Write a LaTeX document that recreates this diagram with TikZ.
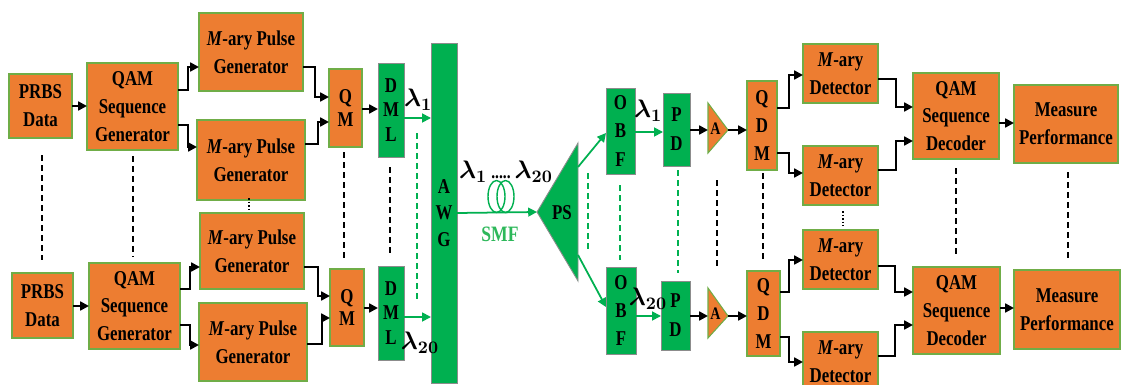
\documentclass[tikz,border=0pt]{standalone}
\usepackage{amsmath}
\usepackage{fontspec}
\setmainfont{Liberation Serif}[FakeStretch=0.80]
\usetikzlibrary{arrows.meta}
\definecolor{ofill}{HTML}{ED7D31}
\definecolor{oline}{HTML}{70AD47}
\definecolor{gfill}{HTML}{00B050}
\definecolor{gline}{HTML}{8C8C8C}
\definecolor{gwire}{HTML}{00B050}
\definecolor{smfc}{HTML}{2DB85A}
\newcommand\lbl{\fontsize{12}{15.8}\selectfont\bfseries}
\newcommand\stk[1]{\fontsize{12}{#1}\selectfont\bfseries}
\newcommand\bx[7]{\node[#6, minimum width={(#4-#2)*0.02cm}, minimum height={(#5-#3)*0.02cm}] (#1) at ({(#2+#4)/2},{(#3+#5)/2}) {#7};}
\newcommand\lam[1]{$\boldsymbol{\lambda_{#1}}$}
\newcommand\Mary{\textit{M}-ary}
\begin{document}
\begin{tikzpicture}[x=0.02cm,y=-0.02cm,
  obox/.style={draw=oline, fill=ofill, line width=0.6pt, inner sep=0pt, outer sep=0pt, align=center, font=\lbl},
  gbox/.style={draw=gline, fill=gfill, line width=0.5pt, inner sep=0pt, outer sep=0pt, align=center},
  arr/.style={line width=1.4pt, -{Triangle[length=5pt,width=5pt]}},
  garr/.style={draw=gwire, line width=1pt, -{Triangle[length=5pt,width=5pt]}},
  bdash/.style={dash pattern=on 3.5pt off 2.2pt, line width=1pt},
  gdash/.style={draw=gwire, dash pattern=on 3.5pt off 2.2pt, line width=0.9pt},
  bdot/.style={densely dotted, line width=1pt},
  lamlab/.style={inner sep=0pt, font=\fontsize{14}{16}\selectfont}]
\fill[white] (0,0) rectangle (1122,385);
\useasboundingbox (0,0) rectangle (1122,385);

% ---------- transmitter ----------
\bx{prbs1}{9}{74}{72}{138}{obox}{PRBS\\Data}
\bx{qam1}{87}{63}{178}{150}{obox}{QAM\\Sequence\\Generator}
\bx{gen1}{199}{13}{303}{91}{obox}{\Mary{} Pulse\\Generator}
\bx{gen2}{197}{120}{305}{200}{obox}{\Mary{} Pulse\\Generator}
\bx{qm1}{329}{69}{362}{147}{obox,font=\stk{13pt}}{Q\\M}
\bx{dml1}{378}{63}{404}{157}{gbox,font=\stk{14pt}}{D\\M\\L}
\bx{prbs2}{12}{273}{73}{338}{obox}{PRBS\\Data}
\bx{qam2}{89}{263}{180}{349}{obox}{QAM\\Sequence\\Generator}
\bx{gen3}{200}{213}{304}{289}{obox}{\Mary{} Pulse\\Generator}
\bx{gen4}{199}{303}{307}{381}{obox}{\Mary{} Pulse\\Generator}
\bx{qm2}{330}{269}{364}{346}{obox,font=\stk{13pt}}{Q\\M}
\bx{dml2}{378}{266}{404}{360}{gbox,font=\stk{14pt}}{D\\M\\L}
\bx{awg}{431}{43}{457}{383}{gbox,font=\stk{15pt}}{A\\W\\G}

% ---------- fibre / splitter ----------
\filldraw[draw=gline, fill=gfill, line width=0.5pt] (537,212) -- (578,143) -- (578,281) -- cycle;
\node[font=\lbl, inner sep=0pt] (ps) at (562,213) {PS};
\coordinate (psin) at (537,212);
\coordinate (pstop) at (578,167);
\coordinate (psbot) at (578,255);
\draw[gwire, line width=0.8pt] (496.5,196.5) ellipse [x radius=0.17cm, y radius=0.32cm];
\draw[gwire, line width=0.8pt] (505.5,196.5) ellipse [x radius=0.17cm, y radius=0.32cm];
\node[lamlab] (lamall) at (506,172) {\lam{1}\,{\fontsize{11}{12}\selectfont\textbf{.....}}\,\lam{20}};
\node[font=\fontsize{12.5}{14}\selectfont\bfseries, text=smfc, inner sep=0pt] (smf) at (500,234) {SMF};

% ---------- receiver ----------
\bx{obf1}{606}{88}{635}{174}{gbox,font=\stk{16pt}}{O\\B\\F}
\bx{obf2}{606}{267}{636}{354}{gbox,font=\stk{16pt}}{O\\B\\F}
\bx{pd1}{663}{93}{690}{166}{gbox,font=\stk{16.5pt}}{P\\D}
\bx{pd2}{661}{281}{690}{350}{gbox,font=\stk{16.5pt}}{P\\D}
\filldraw[draw=oline, fill=ofill, line width=0.6pt] (708,103) -- (728,130) -- (708,153) -- cycle;
\filldraw[draw=oline, fill=ofill, line width=0.6pt] (708,288) -- (728,316) -- (708,338) -- cycle;
\node[font=\fontsize{10}{11}\selectfont\bfseries, inner sep=0pt] (amp1) at (715.5,129) {A};
\node[font=\fontsize{10}{11}\selectfont\bfseries, inner sep=0pt] (amp2) at (715.5,314) {A};
\coordinate (a1in) at (708,130);
\coordinate (a1out) at (728,130);
\coordinate (a2in) at (708,316);
\coordinate (a2out) at (728,316);
\bx{qdm1}{747}{81}{777}{170}{obox,font=\stk{16pt}}{Q\\D\\M}
\bx{qdm2}{747}{271}{780}{356}{obox,font=\stk{16pt}}{Q\\D\\M}
\bx{det1}{803}{44}{878}{103}{obox}{\Mary\\Detector}
\bx{det2}{803}{146}{878}{205}{obox}{\Mary\\Detector}
\bx{det3}{803}{230}{878}{289}{obox}{\Mary\\Detector}
\bx{det4}{803}{332}{878}{392}{obox}{\Mary\\Detector}
\bx{dec1}{913}{73}{999}{159}{obox}{QAM\\Sequence\\Decoder}
\bx{dec2}{913}{267}{1000}{354}{obox}{QAM\\Sequence\\Decoder}
\bx{meas1}{1014}{85}{1118}{163}{obox}{Measure\\Performance}
\bx{meas2}{1014}{270}{1120}{349}{obox}{Measure\\Performance}

% ---------- black connectors ----------
\draw[arr] (prbs1.east |- 0,106) -- (qam1.west |- 0,106);
\draw[arr] (prbs2.east |- 0,306) -- (qam2.west |- 0,306);
\draw[arr] (qam1.east |- 0,90) -- (188,90) |- (gen1.west |- 0,67);
\draw[arr] (qam1.east |- 0,125) -- (188,125) |- (gen2.west |- 0,147);
\draw[arr] (gen1.east |- 0,67) -- (315,67) |- (qm1.west |- 0,97);
\draw[arr] (gen2.east |- 0,144) -- (318,144) |- (qm1.west |- 0,122);
\draw[arr] (qm1.east |- 0,109) -- (dml1.west |- 0,109);
\draw[arr] (qam2.east |- 0,289) -- (190,289) |- (gen3.west |- 0,267);
\draw[arr] (qam2.east |- 0,325) -- (190,325) |- (gen4.west |- 0,345);
\draw[arr] (gen3.east |- 0,267) -- (318,267) |- (qm2.west |- 0,296);
\draw[arr] (gen4.east |- 0,344) -- (322,344) |- (qm2.west |- 0,318);
\draw[arr] (qm2.east |- 0,308) -- (dml2.west |- 0,308);

\draw[arr] (pd1.east |- 0,130) -- (a1in);
\draw[arr] (a1out) -- (qdm1.west |- 0,130);
\draw[arr] (pd2.east |- 0,316) -- (a2in);
\draw[arr] (a2out) -- (qdm2.west |- 0,316);
\draw[arr] (qdm1.east |- 0,108) -- (789,108) |- (det1.west |- 0,75);
\draw[arr] (qdm1.east |- 0,153) -- (789,153) |- (det2.west |- 0,173);
\draw[arr] (det1.east |- 0,79) -- (896,79) |- (dec1.west |- 0,107);
\draw[arr] (det2.east |- 0,170) -- (896,170) |- (dec1.west |- 0,141);
\draw[arr] (dec1.east |- 0,123) -- (meas1.west |- 0,123);
\draw[arr] (qdm2.east |- 0,292) -- (789,292) |- (det3.west |- 0,260);
\draw[arr] (qdm2.east |- 0,337) -- (789,337) |- (det4.west |- 0,362);
\draw[arr] (det3.east |- 0,266) -- (895,266) |- (dec2.west |- 0,292);
\draw[arr] (det4.east |- 0,356) -- (895,356) |- (dec2.west |- 0,325);
\draw[arr] (dec2.east |- 0,308) -- (meas2.west |- 0,308);

% ---------- green connectors ----------
\draw[garr] (dml1.east |- 0,118) -- (awg.west |- 0,118);
\draw[garr] (dml2.east |- 0,317) -- (awg.west |- 0,317);
\draw[garr] (awg.east |- 0,213) -- (psin);
\draw[garr] (pstop) -- (obf1.west |- 0,133);
\draw[garr] (psbot) -- (obf2.west |- 0,307);
\draw[garr] (obf1.east |- 0,132) -- (pd1.west |- 0,132);
\draw[garr] (obf2.east |- 0,316) -- (pd2.west |- 0,316);

% ---------- wavelength labels ----------
\node[lamlab] (l1a) at (418,100) {\lam{1}};
\node[lamlab] (l20a) at (420,343) {\lam{20}};
\node[lamlab] (l1b) at (648,111) {\lam{1}};
\node[lamlab] (l20b) at (648,299) {\lam{20}};

% ---------- ellipsis lines ----------
\draw[bdash] (42,155) -- (42,260);
\draw[bdash] (133,156) -- (133,257);
\draw[bdash] (344,152) -- (344,258);
\draw[bdash] (390,167) -- (390,253);
\draw[bdash] (717,180) -- (717,268);
\draw[bdash] (763,173) -- (763,263);
\draw[bdash] (956,168) -- (956,258);
\draw[bdash] (1068,172) -- (1068,261);
\draw[bdot] (249,198) -- (249,212);
\draw[bdot] (843,211) -- (843,226);
\draw[gdash] (417,133) -- (417,303);
\draw[gdash] (588,173) -- (588,252);
\draw[gdash] (620,185) -- (620,260);
\draw[gdash] (678,170) -- (678,273);
\end{tikzpicture}
\end{document}
